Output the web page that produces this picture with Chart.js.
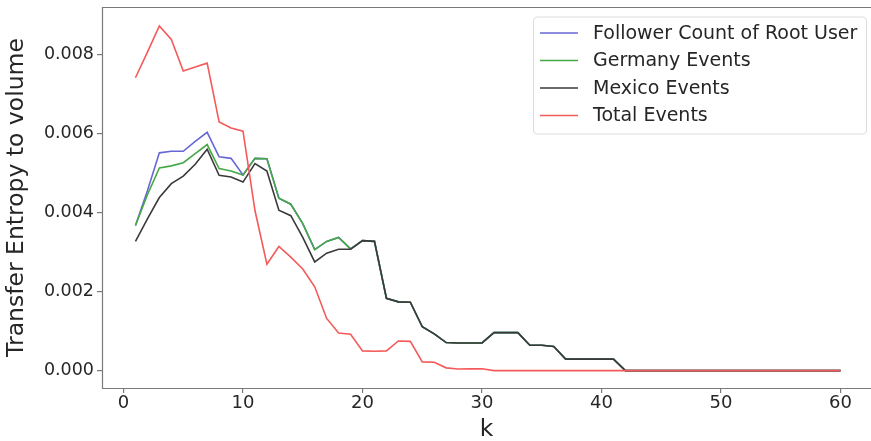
<!DOCTYPE html>
<html>
<head>
<meta charset="utf-8">
<script src="https://cdn.jsdelivr.net/npm/chart.js@4.4.0/dist/chart.umd.min.js"></script>
<style>
  html, body { margin: 0; padding: 0; background: #fff; }
  #wrap { width: 871px; height: 441px; }
</style>
</head>
<body>
<div id="wrap"><canvas id="teChart" width="871" height="441"></canvas></div>
<script>
/* DATA */
const kValues = [1, 2, 3, 4, 5, 6, 7, 8, 9, 10, 11, 12, 13, 14, 15, 16, 17, 18, 19, 20,
                 21, 22, 23, 24, 25, 26, 27, 28, 29, 30, 31, 32, 33, 34, 35, 36, 37, 38, 39, 40,
                 41, 42, 43, 44, 45, 46, 47, 48, 49, 50, 51, 52, 53, 54, 55, 56, 57, 58, 59, 60];

const followerCount = [0.00367, 0.00455, 0.00551, 0.00555, 0.00555, 0.00580, 0.00603, 0.00541, 0.00537, 0.00495,
                       0.00537, 0.00536, 0.00436, 0.00421, 0.00372, 0.00306, 0.00327, 0.00337, 0.00308, 0.00329,
                       0.00327, 0.00183, 0.00174, 0.00173, 0.00111, 0.00093, 0.00071, 0.00070, 0.00070, 0.00070,
                       0.00096, 0.00096, 0.00096, 0.00064, 0.00064, 0.00061, 0.00029, 0.00029, 0.00029, 0.00029,
                       0.00029, 0, 0, 0, 0, 0, 0, 0, 0, 0,
                       0, 0, 0, 0, 0, 0, 0, 0, 0, 0];

const germanyEvents = [0.00367, 0.00445, 0.00513, 0.00518, 0.00526, 0.00549, 0.00572, 0.00511, 0.00505, 0.00495,
                       0.00537, 0.00536, 0.00436, 0.00421, 0.00372, 0.00306, 0.00327, 0.00337, 0.00308, 0.00329,
                       0.00327, 0.00183, 0.00174, 0.00173, 0.00111, 0.00093, 0.00071, 0.00070, 0.00070, 0.00070,
                       0.00096, 0.00096, 0.00096, 0.00064, 0.00064, 0.00061, 0.00029, 0.00029, 0.00029, 0.00029,
                       0.00029, 0, 0, 0, 0, 0, 0, 0, 0, 0,
                       0, 0, 0, 0, 0, 0, 0, 0, 0, 0];

const mexicoEvents = [0.00327, 0.00384, 0.00438, 0.00473, 0.00492, 0.00522, 0.00560, 0.00494, 0.00490, 0.00477,
                      0.00524, 0.00505, 0.00406, 0.00392, 0.00337, 0.00275, 0.00297, 0.00307, 0.00307, 0.00329,
                      0.00327, 0.00183, 0.00174, 0.00173, 0.00111, 0.00093, 0.00071, 0.00070, 0.00070, 0.00070,
                      0.00096, 0.00096, 0.00096, 0.00064, 0.00064, 0.00061, 0.00029, 0.00029, 0.00029, 0.00029,
                      0.00029, 0, 0, 0, 0, 0, 0, 0, 0, 0,
                      0, 0, 0, 0, 0, 0, 0, 0, 0, 0];

const totalEvents = [0.00741, 0.00806, 0.00872, 0.00838, 0.00758, 0.00768, 0.00778, 0.00629, 0.00614, 0.00606,
                     0.00405, 0.00269, 0.00314, 0.00287, 0.00257, 0.00212, 0.00132, 0.00095, 0.00092, 0.00050,
                     0.00049, 0.00050, 0.00075, 0.00074, 0.00022, 0.00021, 0.00007, 0.00004, 0.000045, 0.000045,
                     0, 0, 0, 0, 0, 0, 0, 0, 0, 0,
                     0, 0, 0, 0, 0, 0, 0, 0, 0, 0,
                     0, 0, 0, 0, 0, 0, 0, 0, 0, 0];

const xTicks = [0, 10, 20, 30, 40, 50, 60];
const yTicks = [0, 0.002, 0.004, 0.006, 0.008];

/* HELPERS */
function toPoints(values) {
  return values.map(function (v, i) { return { x: kValues[i], y: v }; });
}

function makeSet(label, color, values, order) {
  return {
    label: label,
    data: toPoints(values),
    borderColor: color,
    backgroundColor: color,
    borderWidth: 1.6,
    pointRadius: 0,
    tension: 0,
    fill: false,
    order: order
  };
}

const FONT = "'DejaVu Sans', sans-serif";
const TEXT = '#262626';

/* FRAME + LEGEND INSIDE PLOT */
const framePlugin = {
  id: 'frame',
  afterDatasetsDraw(chart) {
    const ctx = chart.ctx;
    const a = chart.chartArea;
    ctx.save();
    ctx.strokeStyle = '#7a7a7a';
    ctx.lineWidth = 1.2;
    ctx.beginPath();
    ctx.moveTo(a.right, a.top + 0.5);
    ctx.lineTo(a.left + 0.5, a.top + 0.5);
    ctx.lineTo(a.left + 0.5, a.bottom + 0.5);
    ctx.lineTo(a.right, a.bottom + 0.5);
    ctx.stroke();

    // legend
    const bx = 533, by = 16.5, bw = 333, bh = 117, r = 4;
    ctx.fillStyle = 'rgba(255,255,255,0.85)';
    ctx.strokeStyle = '#dcdcdc';
    ctx.lineWidth = 1;
    ctx.beginPath();
    ctx.roundRect(bx + 0.5, by + 0.5, bw, bh, r);
    ctx.fill();
    ctx.stroke();

    ctx.font = '19px ' + FONT;
    ctx.textBaseline = 'middle';
    ctx.textAlign = 'left';
    const rows = [33, 60.5, 88, 115.5];
    chart.data.datasets.forEach(function (ds, i) {
      const y = rows[i];
      ctx.strokeStyle = ds.borderColor;
      ctx.lineWidth = 1.6;
      ctx.beginPath();
      ctx.moveTo(540, y);
      ctx.lineTo(578, y);
      ctx.stroke();
      ctx.fillStyle = TEXT;
      ctx.fillText(ds.label, 593, y + 1);
    });
    ctx.restore();
  }
};

new Chart(document.getElementById('teChart'), {
  type: 'line',
  data: {
    datasets: [
      makeSet('Follower Count of Root User', '#6767d6', followerCount, 3),
      makeSet('Germany Events', '#45a845', germanyEvents, 2),
      makeSet('Mexico Events', '#3a3a3a', mexicoEvents, 1),
      makeSet('Total Events', '#f45a5a', totalEvents, 0)
    ]
  },
  options: {
    responsive: false,
    animation: false,
    devicePixelRatio: 1,
    layout: { padding: { top: 7, right: 0, left: 0, bottom: 0 } },
    plugins: {
      legend: { display: false },
      tooltip: { enabled: false }
    },
    scales: {
      x: {
        type: 'linear',
        min: -1.8,
        max: 62.55,
        afterBuildTicks: function (scale) {
          scale.ticks = xTicks.map(function (v) { return { value: v }; });
        },
        afterFit: function (scale) {
          scale.height = 53;
          scale.paddingLeft = 0;
          scale.paddingRight = 0;
        },
        grid: { drawOnChartArea: false, drawTicks: true, tickLength: 5, color: '#7a7a7a', lineWidth: 1.2 },
        border: { display: false },
        ticks: {
          color: TEXT,
          font: { family: FONT, size: 18 },
          padding: 0,
          maxRotation: 0,
          callback: function (v) { return String(v); }
        },
        title: {
          display: true,
          text: 'k',
          color: TEXT,
          font: { family: FONT, size: 23.5 },
          padding: { top: 0, bottom: -3 }
        }
      },
      y: {
        type: 'linear',
        min: -0.00044,
        max: 0.0092,
        afterBuildTicks: function (scale) {
          scale.ticks = yTicks.map(function (v) { return { value: v }; });
        },
        afterFit: function (scale) {
          scale.width = 102;
          scale.paddingTop = 0;
          scale.paddingBottom = 0;
        },
        grid: { drawOnChartArea: false, drawTicks: true, tickLength: 5, color: '#7a7a7a', lineWidth: 1.2 },
        border: { display: false },
        ticks: {
          color: TEXT,
          font: { family: FONT, size: 17.5 },
          padding: 3,
          callback: function (v) { return v.toFixed(3); }
        },
        title: {
          display: true,
          text: 'Transfer Entropy to volume',
          color: TEXT,
          font: { family: FONT, size: 23.5 },
          padding: { top: 3, bottom: 0 }
        }
      }
    }
  },
  plugins: [framePlugin]
});
</script>
</body>
</html>
